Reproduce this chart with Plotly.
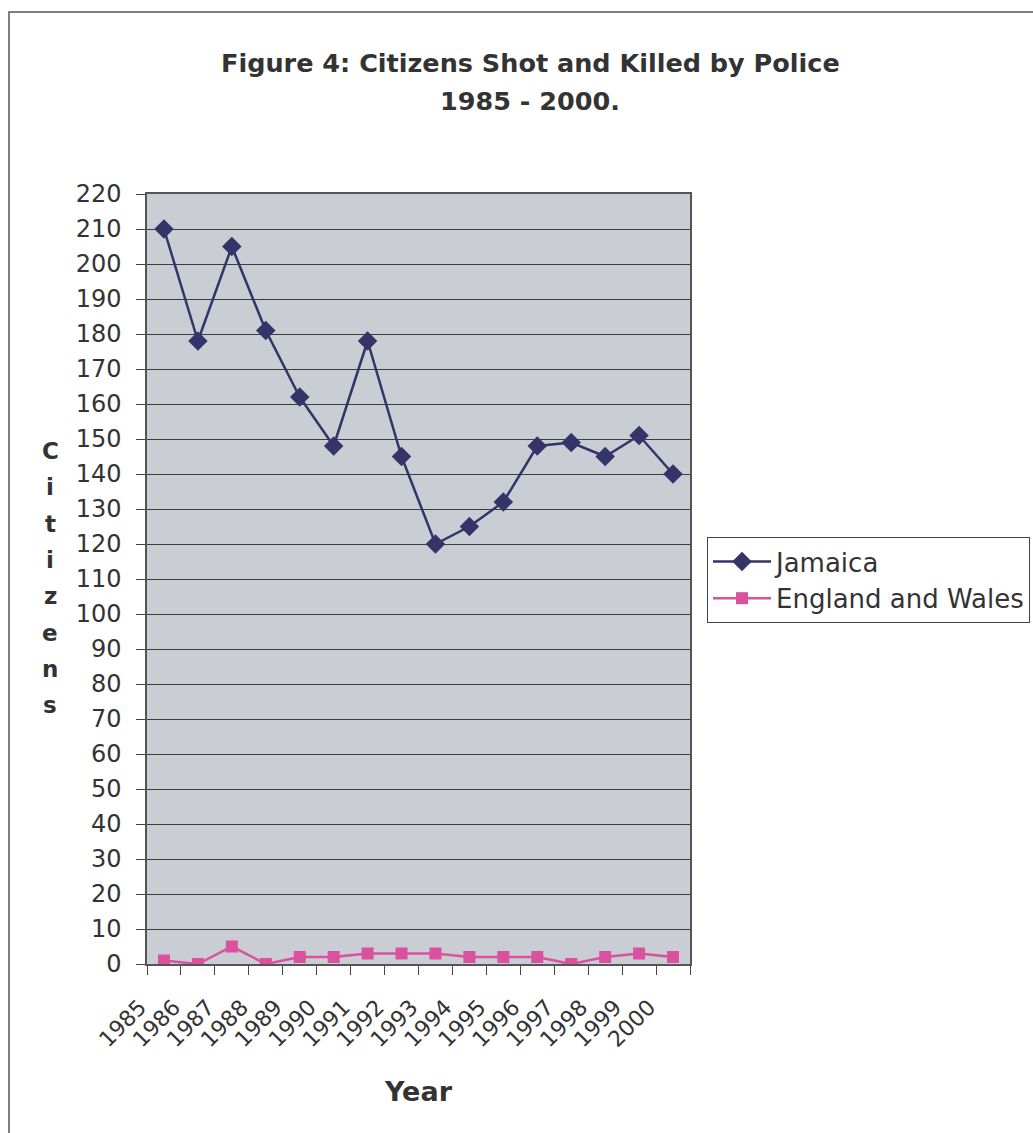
import plotly.graph_objects as go

# Annual counts of citizens shot and killed by police
years = ["1985", "1986", "1987", "1988", "1989", "1990", "1991", "1992",
         "1993", "1994", "1995", "1996", "1997", "1998", "1999", "2000"]
jamaica = [210, 178, 205, 181, 162, 148, 178, 145, 120, 125, 132, 148, 149, 145, 151, 140]
england_wales = [1, 0, 5, 0, 2, 2, 3, 3, 3, 2, 2, 2, 0, 2, 3, 2]
y_ticks = list(range(0, 221, 10))
title_lines = ["Figure 4: Citizens Shot and Killed by Police", "1985 - 2000."]

FONT = "DejaVu Sans, Liberation Sans, Arial, sans-serif"
TXT = "#333333"

# plot-area geometry in pixels
L, R, T, B = 147, 690, 194, 964
W, H = R - L, B - T

fig = go.Figure()
fig.add_trace(go.Scatter(
    x=years, y=jamaica, name="Jamaica", mode="lines+markers",
    line=dict(color="#343468", width=2.5),
    marker=dict(symbol="diamond", size=15, color="#343468"),
))
fig.add_trace(go.Scatter(
    x=years, y=england_wales, name="England and Wales", mode="lines+markers",
    line=dict(color="#d9519f", width=2.5),
    marker=dict(symbol="square", size=12, color="#d9519f"),
))

fig.update_layout(
    width=1033, height=1133,
    margin=dict(l=L, r=1033 - R, t=T, b=1133 - B, autoexpand=False),
    paper_bgcolor="white",
    plot_bgcolor="#cacdd3",
    font=dict(family=FONT, color=TXT, size=24),
    showlegend=True,
    legend=dict(
        x=(707 - L) / W, xanchor="left",
        y=(B - 537) / H, yanchor="top",
        bgcolor="white", bordercolor="#444444", borderwidth=1,
        font=dict(family=FONT, size=26, color=TXT),
        itemwidth=58, tracegroupgap=0,
    ),
)

# Chart title, two lines
for text, ypix in zip(title_lines, [63, 101]):
    fig.add_annotation(
        text=f"<b>{text}</b>",
        xref="paper", x=(530 - L) / W, xanchor="center",
        yref="paper", y=(B - ypix) / H, yanchor="middle",
        showarrow=False,
        font=dict(family=FONT, size=25.5, color=TXT),
    )

fig.update_xaxes(
    type="category", categoryorder="array", categoryarray=years,
    range=[-0.5, len(years) - 0.5],
    tickangle=-45, tickson="boundaries", ticks="outside", ticklen=9,
    tickcolor="#444444", tickfont=dict(family=FONT, size=22, color=TXT),
    ticklabelstandoff=20, ticklabelshift=-24,
    showgrid=False, showline=True, linecolor="#555555", linewidth=1.5,
    mirror=True, zeroline=False,
    title=dict(text="<b>Year</b>", font=dict(family=FONT, size=27, color=TXT), standoff=31),
)
fig.update_yaxes(
    range=[0, 220], tickvals=y_ticks, ticks="outside", ticklen=9,
    tickcolor="#444444", tickfont=dict(family=FONT, size=24, color=TXT),
    ticklabelstandoff=10,
    showgrid=True, gridcolor="#3c3c3c", gridwidth=1,
    showline=True, linecolor="#555555", linewidth=1.5, mirror=True,
    zeroline=False,
)

# Vertical stacked axis title
for k, ch in enumerate("Citizens"):
    fig.add_annotation(
        text=f"<b>{ch}</b>",
        xref="paper", x=(50 - L) / W, xanchor="center",
        yref="paper", y=(B - (451 + 36.3 * k)) / H, yanchor="middle",
        showarrow=False, font=dict(family=FONT, size=23, color=TXT),
    )

# Outer chart frame
fig.add_shape(
    type="rect", xref="paper", yref="paper",
    x0=(9 - L) / W, x1=(1045 - L) / W,
    y0=(B - 1145) / H, y1=(B - 12) / H,
    line=dict(color="#555555", width=1.5), fillcolor="rgba(0,0,0,0)",
    layer="below",
)

fig.write_html("out.html")
